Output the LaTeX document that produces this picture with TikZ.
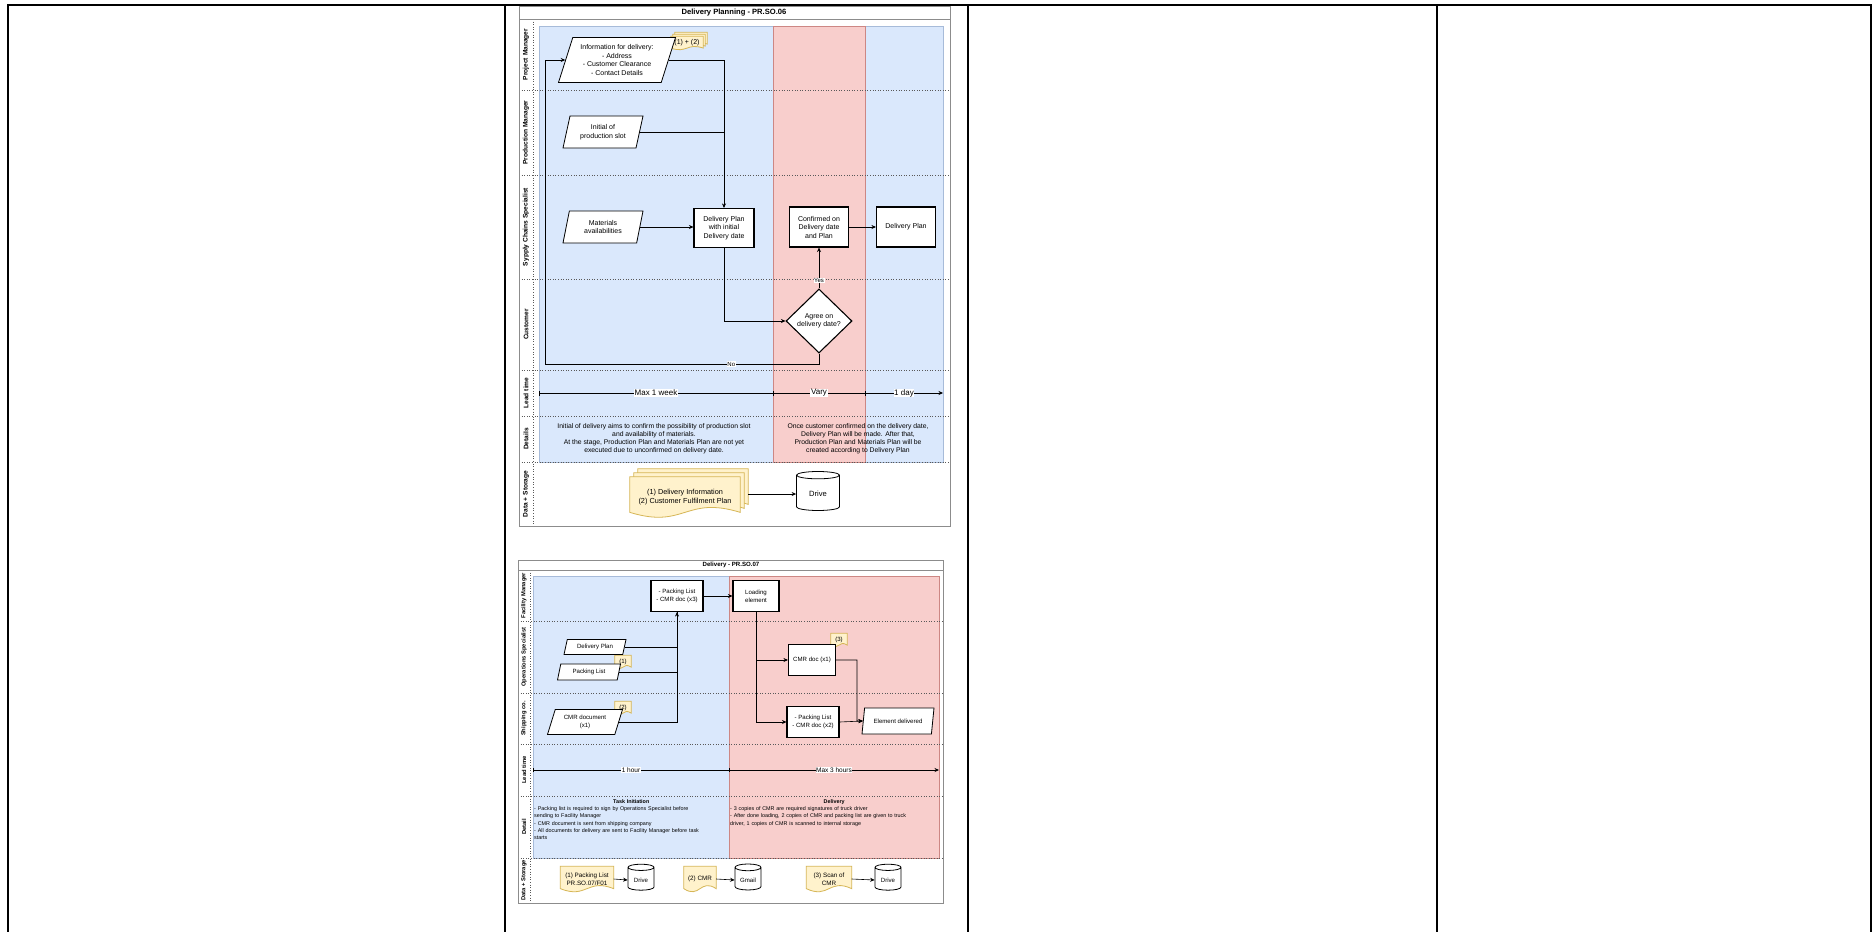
\documentclass[tikz,border=0pt]{standalone}
\usepackage{fontspec}
\setmainfont{Liberation Sans}
\usepackage{xcolor}
\usepackage{tikz}
\usetikzlibrary{shapes.geometric, arrows.meta, calc}
\definecolor{zonefill}{HTML}{dae8fc}
\definecolor{zoneline}{HTML}{6c8ebf}
\definecolor{hotfill}{HTML}{f8cecc}
\definecolor{hotline}{HTML}{b85450}
\definecolor{notefill}{HTML}{fff2cc}
\definecolor{noteline}{HTML}{d6b656}
\definecolor{framegray}{HTML}{8c8c8c}
\pgfdeclarelayer{zones}
\pgfdeclarelayer{docs}
\pgfsetlayers{zones,docs,main}
\newcommand{\docshape}[2]{%
 \begin{pgfonlayer}{docs}
 \path[fill=notefill, draw=noteline, line width=0.8pt]
  let \p1=(#1.north west), \p2=(#1.south east),
  \n1={0.12*(\y1-\y2)}, \n2={0.5*(\x1+\x2)} in
  (\x1+#2,\y1+#2) -- (\x2+#2,\y1+#2) -- (\x2+#2,\y2+\n1+#2)
  .. controls (\n2+#2,\y2+4.5*\n1+#2) and (\n2+#2,\y2-2.5*\n1+#2) .. (\x1+#2,\y2+\n1+#2) -- cycle;
 \end{pgfonlayer}}

\begin{document}
\begin{tikzpicture}[x=1pt, y=-1pt,
 font=\fontsize{7}{8.5}\selectfont,
 task/.style={draw, line width=1.1pt, fill=white, align=center, inner sep=1pt},
 data/.style={trapezium, trapezium left angle=65, trapezium right angle=115, trapezium stretches body, draw, line width=0.8pt, fill=white, align=center, inner sep=0pt},
 thin data/.style={data, trapezium left angle=60, trapezium right angle=120},
 gate/.style={diamond, draw, line width=1.1pt, fill=white, align=center, inner sep=0pt},
 store/.style={cylinder, shape border rotate=90, aspect=0.3, draw, line width=0.8pt, fill=white},
 paper/.style={align=center, inner sep=0pt},
 flow/.style={-{Stealth[length=4.5pt, width=4pt]}, line width=0.6pt},
 span/.style={line width=0.6pt},
 tag/.style={fill=white, inner sep=0.6pt},
 lanename/.style={rotate=90, font=\bfseries\fontsize{6.6}{7.5}\selectfont},
 lanesep/.style={dotted, line width=0.6pt, black!65}]
\useasboundingbox (0,0) rectangle (1876,932);

\begin{pgfonlayer}{zones}
\draw[line width=1.6pt] (7,5) -- (1872,5);
\foreach \cx in {8,505,968,1437,1871}
  \draw[line width=1.6pt] (\cx,5) -- (\cx,932);
\fill[white] (519,6) rectangle (950,526);
\filldraw[fill=zonefill, draw=zoneline!60] (539,26) rectangle (943,462);
\filldraw[fill=hotfill, draw=hotline!70] (773,26) rectangle (865,462);
\foreach \ly in {90,175,279,370,416,462}
  \draw[lanesep] (519,\ly) -- (950,\ly);
\draw[lanesep] (533,19) -- (533,526);
\draw[framegray, line width=0.8pt] (519,6) rectangle (950,526);
\draw[framegray, line width=0.8pt] (519,19) -- (950,19);
\fill[white] (518,560) rectangle (943,903);
\filldraw[fill=zonefill, draw=zoneline!60] (533,576) rectangle (729,858);
\filldraw[fill=hotfill, draw=hotline!70] (729,576) rectangle (939,858);
\foreach \ly in {621,693,744,796,858}
  \draw[lanesep] (518,\ly) -- (943,\ly);
\draw[lanesep] (530,570) -- (530,903);
\draw[framegray, line width=0.8pt] (518,560) rectangle (943,903);
\draw[framegray, line width=0.8pt] (518,570) -- (943,570);
\end{pgfonlayer}

\node[font=\bfseries\fontsize{7.6}{8}\selectfont] (plantitle) at (734,12.5) {Delivery Planning - PR.SO.06};
\node[lanename] (lpm) at (526,54.5) {Project Manager};
\node[lanename] (lprod) at (526,132.5) {Production Manager};
\node[lanename] (lsup) at (526,227) {Sypply Chains Specialist};
\node[lanename] (lcust) at (526,324.5) {Customer};
\node[lanename] (llead) at (526,393) {Lead time};
\node[lanename] (ldet) at (526,439) {Details};
\node[lanename] (ldata) at (526,494) {Data + Storage};

\node[data, minimum width=117pt, minimum height=45pt] (info) at (617,60) {Information for delivery:\\- Address\\- Customer Clearance\\- Contact Details};
\node[paper, minimum width=32pt, minimum height=13pt] (infonote) at (687,43) {(1) + (2)};
\docshape{infonote}{4pt}
\docshape{infonote}{2pt}
\docshape{infonote}{0pt}
\node[data, minimum width=80pt, minimum height=32pt] (slot) at (603,132) {Initial of\\production slot};
\node[data, minimum width=80pt, minimum height=32pt] (mat) at (603,227) {Materials\\availabilities};
\node[task, minimum width=60pt, minimum height=39pt] (dpi) at (724,228) {Delivery Plan\\with initial\\Delivery date};
\node[task, minimum width=59pt, minimum height=40pt] (conf) at (819,227) {Confirmed on\\Delivery date\\and Plan};
\node[task, minimum width=59pt, minimum height=40pt] (dp) at (906,227) {Delivery Plan};
\node[gate, minimum width=66pt, minimum height=64pt] (agree) at (819,321) {Agree on\\delivery date?};
\coordinate (noturn) at (545,364);

\draw[flow] (info.east) -| (dpi.north);
\draw[span] (slot.east) -- (slot.east -| dpi.north);
\draw[flow] (mat.east) -- (mat.east -| dpi.west);
\draw[flow] (dpi.south) |- (agree.west);
\draw[flow] (agree.north) -- node[tag, pos=0.2, font=\fontsize{6}{6}\selectfont]{Yes} (conf.south);
\draw[flow] (agree.south) |- node[tag, pos=0.66, font=\fontsize{6}{6}\selectfont]{No} (noturn) |- (info.west);
\draw[flow] (conf.east) -- (dp.west);

\coordinate (lt0) at (539,393);
\coordinate (lt1) at (773,393);
\coordinate (lt2) at (865,393);
\coordinate (lt3) at (943,393);
\begin{scope}[font=\fontsize{8}{9}\selectfont]
\draw[span, {Bar[width=5pt]}-] (lt0) -- node[tag]{Max 1 week} (lt1);
\draw[span, {Bar[width=5pt]}-] (lt1) -- node[tag]{Vary} (lt2);
\draw[flow, {Bar[width=5pt]}-{Stealth[length=4.5pt, width=4pt]}] (lt2) -- node[tag]{1 day} (lt3);
\end{scope}

\node[paper, font=\fontsize{6.8}{8}\selectfont] (plannote) at (654,439) {Initial of delivery aims to confirm the possibility of production slot\\and availability of materials.\\At the stage, Production Plan and Materials Plan are not yet\\executed due to unconfirmed on delivery date.};
\node[paper, font=\fontsize{6.8}{8}\selectfont] (confnote) at (858,439) {Once customer confirmed on the delivery date,\\Delivery Plan will be made. After that,\\Production Plan and Materials Plan will be\\created according to Delivery Plan};

\node[paper, minimum width=110pt, minimum height=40pt, font=\fontsize{7.3}{9}\selectfont] (infostack) at (685,497) {(1) Delivery Information\\(2) Customer Fulfilment Plan};
\docshape{infostack}{8pt}
\docshape{infostack}{4pt}
\docshape{infostack}{0pt}
\node[store, minimum width=43pt, minimum height=39pt, font=\fontsize{7.6}{9}\selectfont] (drive) at (818,494) {Drive};
\draw[flow] ([xshift=8pt]infostack.east |- drive.west) -- (drive.west);

\begin{scope}[font=\fontsize{6.1}{7.7}\selectfont, lanename/.style={rotate=90, font=\bfseries\fontsize{5.8}{6.5}\selectfont}]
\node[font=\bfseries\fontsize{6.1}{6.5}\selectfont] (shiptitle) at (731,565) {Delivery - PR.SO.07};
\node[lanename] (lfac) at (524,595.5) {Facility Manager};
\node[lanename] (lops) at (524,657) {Operations Specialist};
\node[lanename] (lship) at (524,718.5) {Shipping co.};
\node[lanename] (llead2) at (524,770) {Lead time};
\node[lanename] (ldet2) at (524,827) {Detail};
\node[lanename] (ldata2) at (524,880.5) {Data + Storage};

\node[task, minimum width=52pt, minimum height=31pt] (pl3) at (677,596) {- Packing List\\- CMR doc (x3)};
\node[task, minimum width=46pt, minimum height=31pt] (load) at (756,596) {Loading\\element};
\node[thin data, minimum width=62pt, minimum height=15pt] (dplan) at (595,647) {Delivery Plan};
\node[thin data, minimum width=63pt, minimum height=16pt] (plist) at (589,672) {Packing List};
\node[thin data, minimum width=75pt, minimum height=25pt] (cmrd) at (585,722) {CMR document\\(x1)};
\node[paper, minimum width=16pt, minimum height=13pt] (note1) at (623,662) {(1)};
\node[paper, minimum width=16pt, minimum height=13pt] (note2) at (623,708) {(2)};
\node[task, minimum width=47pt, minimum height=31pt] (cmr1) at (812,660) {CMR doc (x1)};
\node[paper, minimum width=16pt, minimum height=13pt] (note3) at (839,640) {(3)};
\docshape{note1}{0pt}
\docshape{note2}{0pt}
\docshape{note3}{0pt}
\node[task, minimum width=52pt, minimum height=31pt] (pl2) at (813,722) {- Packing List\\- CMR doc (x2)};
\node[thin data, minimum width=72pt, minimum height=26pt] (deliv) at (898,721) {Element delivered};
\coordinate (merge) at (857,721);

\draw[span] (dplan.east) -| (pl3.south);
\draw[span] (plist.east) -| (pl3.south);
\draw[flow] (cmrd.east) -| (pl3.south);
\draw[flow] (pl3.east) -- (load.west);
\draw[flow] (load.south) |- (cmr1.west);
\draw[flow] (load.south) |- (pl2.west);
\draw[flow] (cmr1.east) -| (merge) -- (deliv.west);
\draw[flow] (pl2.east) -- (deliv.west);

\coordinate (lu0) at (533,770);
\coordinate (lu1) at (729,770);
\coordinate (lu2) at (939,770);
\draw[span, {Bar[width=4pt]}-] (lu0) -- node[tag, font=\fontsize{6.5}{7}\selectfont]{1 hour} (lu1);
\draw[flow, {Bar[width=4pt]}-{Stealth[length=4.5pt, width=4pt]}] (lu1) -- node[tag, font=\fontsize{6.5}{7}\selectfont]{Max 3 hours} (lu2);

\node[paper, anchor=north west, text width=194pt, align=left, font=\fontsize{5.4}{7.3}\selectfont] (inittxt) at (534,799) {{\centering\bfseries Task Initiation\par}- Packing list is required to sign by Operations Specialist before\\sending to Facility Manager\\- CMR document is sent from shipping company\\- All documents for delivery are sent to Facility Manager before task\\starts};
\node[paper, anchor=north west, text width=208pt, align=left, font=\fontsize{5.4}{7.3}\selectfont] (delivtxt) at (730,799) {{\centering\bfseries Delivery\par}- 3 copies of CMR are required signatures of truck driver\\- After done loading, 2 copies of CMR and packing list are given to truck\\driver, 1 copies of CMR is scanned to internal storage};

\node[paper, minimum width=53pt, minimum height=25pt, font=\fontsize{6.3}{7.5}\selectfont] (pldoc) at (587,879) {(1) Packing List\\PR.SO.07/F01};
\node[paper, minimum width=32pt, minimum height=25pt, font=\fontsize{6.3}{7.5}\selectfont] (cmrdoc) at (700,879) {(2) CMR};
\node[paper, minimum width=45pt, minimum height=25pt, font=\fontsize{6.3}{7.5}\selectfont] (scandoc) at (829,879) {(3) Scan of\\CMR};
\docshape{pldoc}{0pt}
\docshape{cmrdoc}{0pt}
\docshape{scandoc}{0pt}
\node[store, minimum width=26pt, minimum height=26pt] (drive2) at (641,880) {Drive};
\node[store, minimum width=26pt, minimum height=26pt] (gmail) at (748,880) {Gmail};
\node[store, minimum width=26pt, minimum height=26pt] (drive3) at (888,880) {Drive};
\draw[flow] (pldoc.east) -- (drive2.west);
\draw[flow] (cmrdoc.east) -- (gmail.west);
\draw[flow] (scandoc.east) -- (drive3.west);
\end{scope}
\end{tikzpicture}
\end{document}
